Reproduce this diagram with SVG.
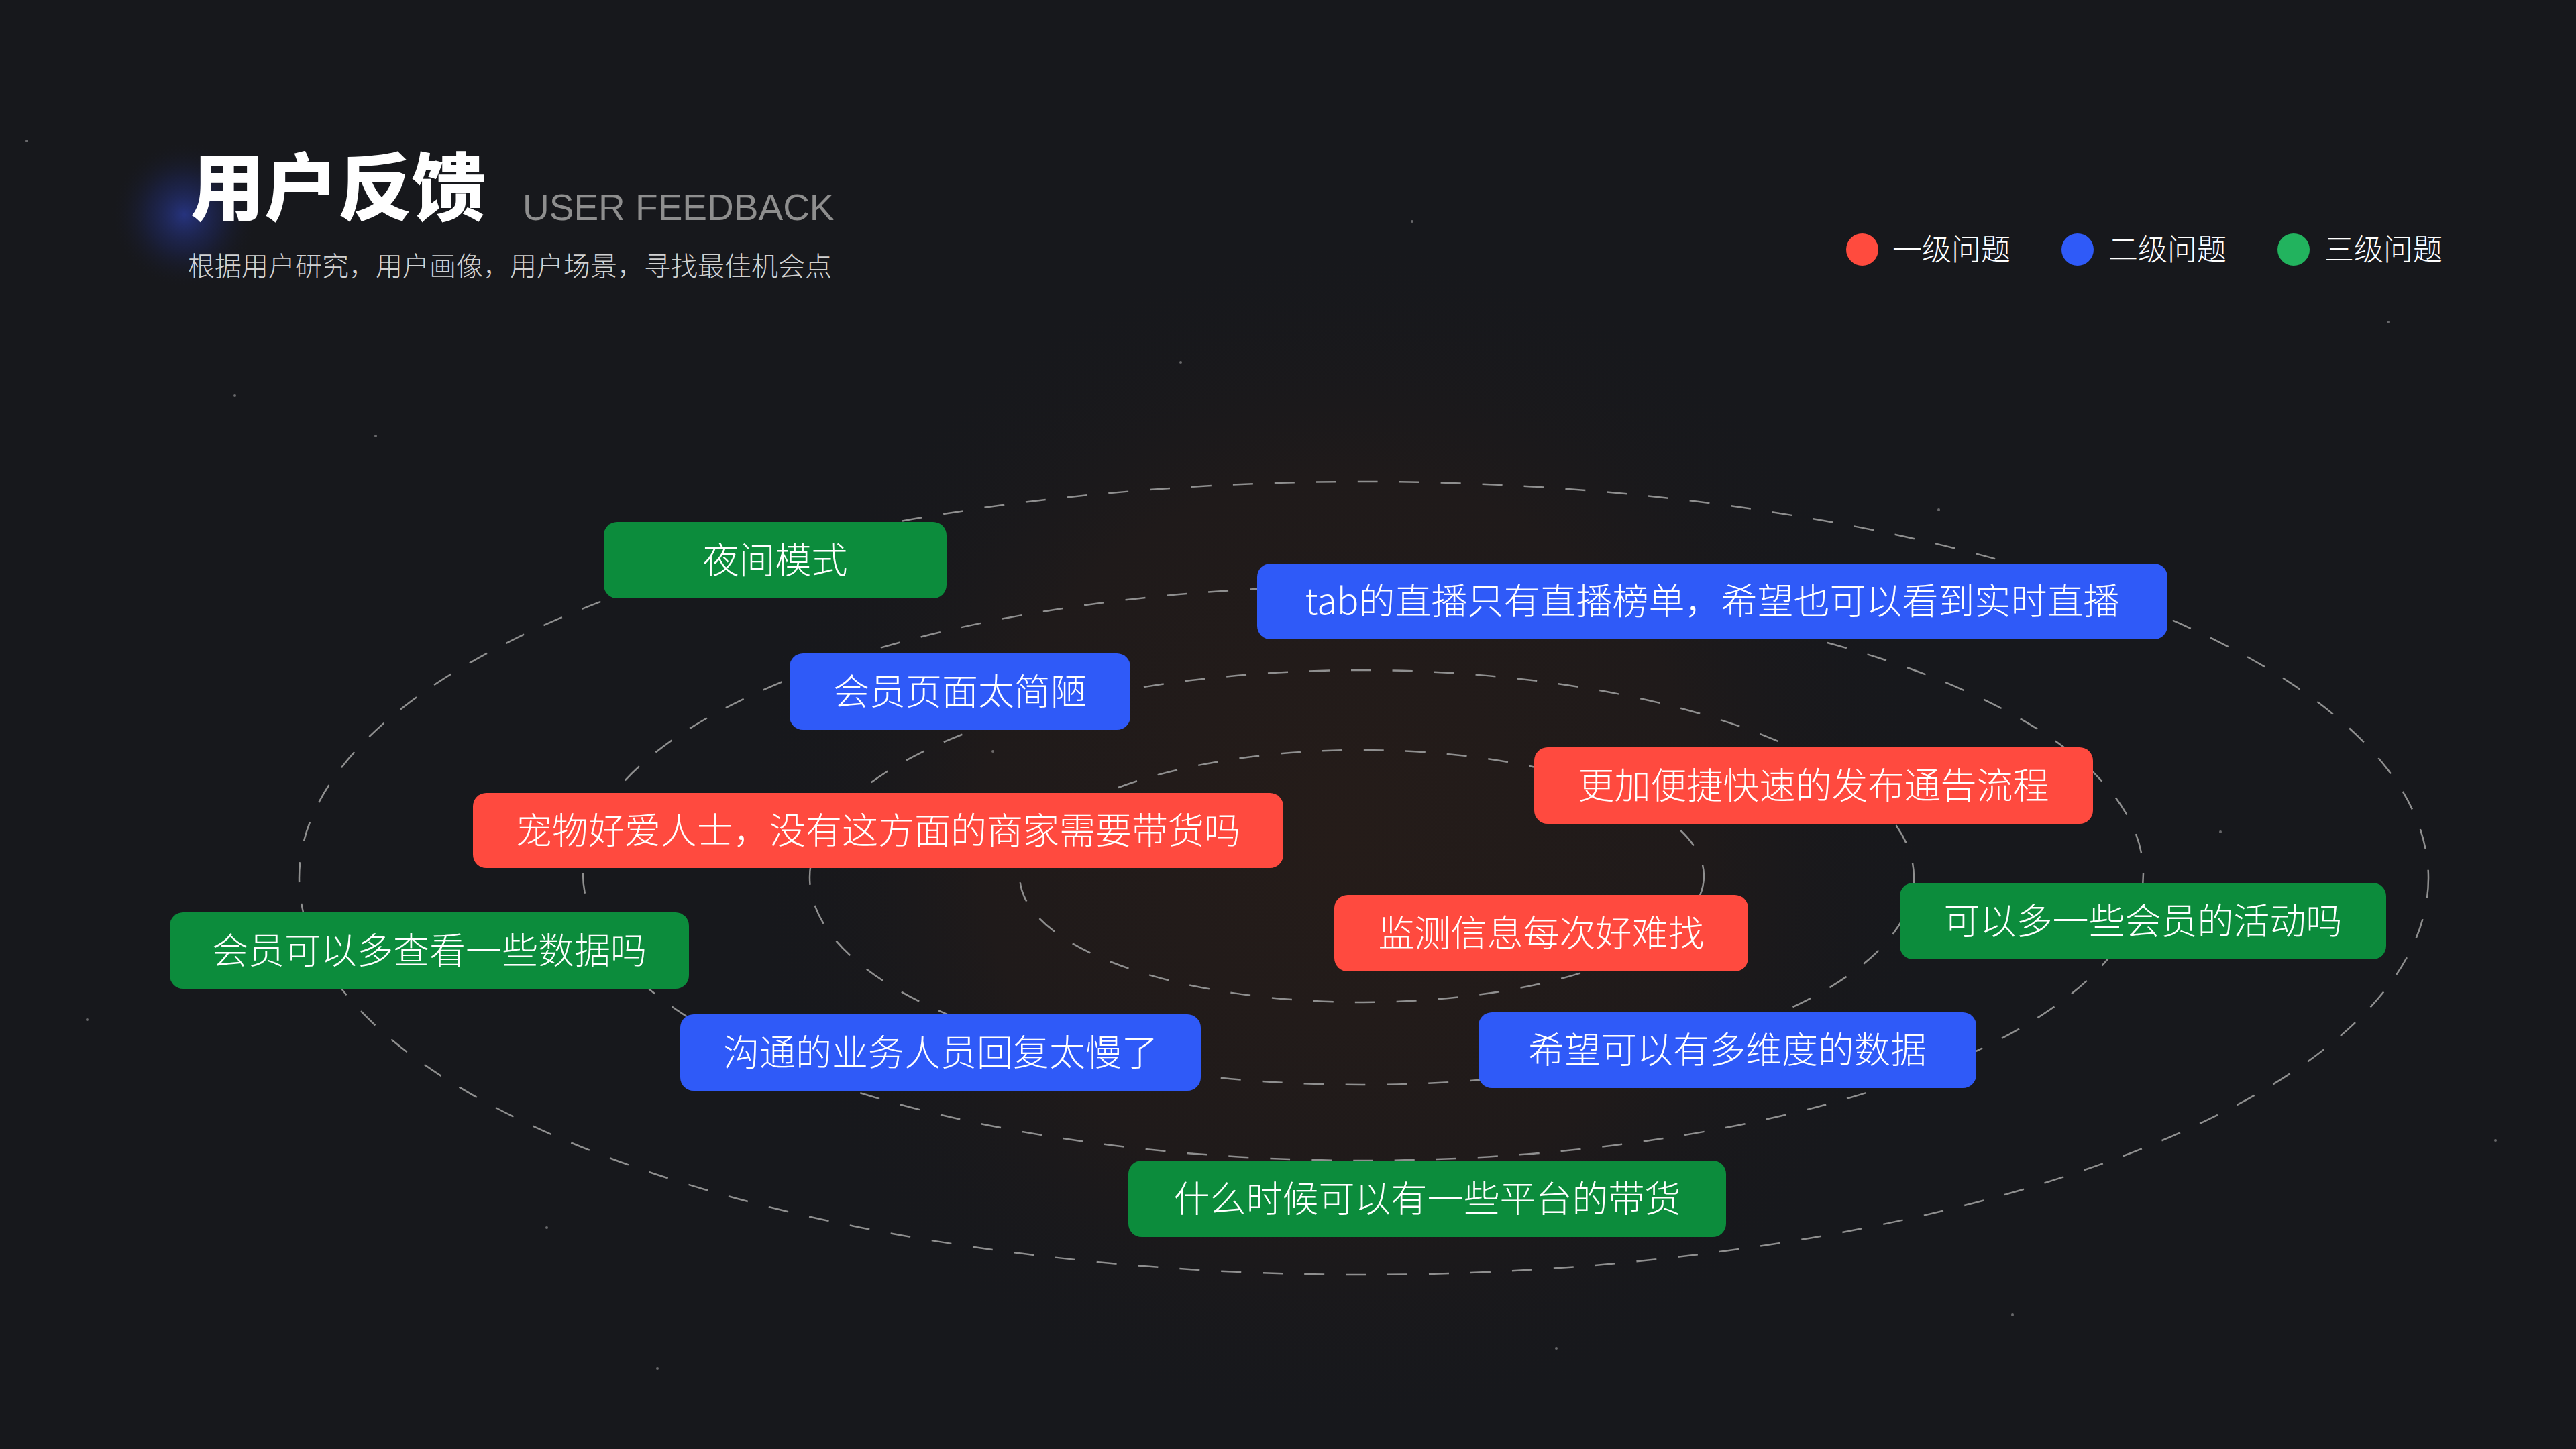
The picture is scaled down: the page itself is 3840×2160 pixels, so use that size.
<svg xmlns="http://www.w3.org/2000/svg" width="3840" height="2160" viewBox="0 0 3840 2160">
<defs>
<radialGradient id="glowC" cx="2000" cy="1250" r="900" gradientUnits="userSpaceOnUse">
<stop offset="0" stop-color="#251c19"/>
<stop offset="0.6" stop-color="#1f1a1a"/>
<stop offset="1" stop-color="#17181c" stop-opacity="0"/>
</radialGradient>
<radialGradient id="glowB" cx="275" cy="320" r="110" gradientUnits="userSpaceOnUse">
<stop offset="0" stop-color="#2d3fa8" stop-opacity="0.7"/>
<stop offset="0.5" stop-color="#1f2a6a" stop-opacity="0.4"/>
<stop offset="1" stop-color="#17181c" stop-opacity="0"/>
</radialGradient>
<style>
.orbit{fill:none;stroke:#8f8f8f;stroke-width:2.5;stroke-dasharray:30 32;}
.tag text{font-family:"Noto Sans CJK SC","Liberation Sans",sans-serif;font-size:54px;font-weight:300;fill:#ffffff;text-anchor:middle;}
.g rect{fill:#0c8c3c;}
.b rect{fill:#2f5af8;}
.r rect{fill:#ff4a3f;}
.leg{font-family:"Noto Sans CJK SC","Liberation Sans",sans-serif;font-size:44px;font-weight:300;fill:#ffffff;}
.star{fill:#ffffff;opacity:0.35;}
</style>
</defs>
<rect width="3840" height="2160" fill="#17181c"/>
<ellipse cx="2000" cy="1250" rx="900" ry="900" fill="url(#glowC)"/>
<circle cx="275" cy="320" r="110" fill="url(#glowB)"/>
<g id="stars">
<circle class="star" cx="40" cy="210" r="2"/><circle class="star" cx="560" cy="650" r="2"/><circle class="star" cx="2105" cy="330" r="2"/><circle class="star" cx="3560" cy="480" r="2"/><circle class="star" cx="2520" cy="1580" r="2"/><circle class="star" cx="815" cy="1830" r="2"/><circle class="star" cx="1480" cy="1120" r="2"/><circle class="star" cx="3000" cy="1960" r="2"/><circle class="star" cx="130" cy="1520" r="2"/><circle class="star" cx="3720" cy="1700" r="2"/><circle class="star" cx="1760" cy="540" r="2"/><circle class="star" cx="2890" cy="760" r="2"/><circle class="star" cx="980" cy="2040" r="2"/><circle class="star" cx="350" cy="590" r="2"/><circle class="star" cx="3310" cy="1240" r="2"/><circle class="star" cx="2320" cy="2010" r="2"/>
</g>
<g id="connectors">
<ellipse class="orbit" cx="2033" cy="1309" rx="1587" ry="591"/>
<ellipse class="orbit" cx="2032" cy="1302" rx="1163" ry="428"/>
<ellipse class="orbit" cx="2030" cy="1308" rx="823" ry="309"/>
<ellipse class="orbit" cx="2030" cy="1306" rx="510" ry="188"/>
</g>
<g id="title">
<text x="284" y="320" font-family="'Noto Sans CJK SC','Liberation Sans',sans-serif" font-size="110" font-weight="900" fill="#ffffff">用户反馈</text>
<text x="779" y="328" font-family="'Liberation Sans',Arial,sans-serif" font-size="55" fill="#8e8e8e">USER FEEDBACK</text>
<text x="280" y="411" font-family="'Noto Sans CJK SC','Liberation Sans',sans-serif" font-size="40" font-weight="300" fill="#d2d2d2">根据用户研究，用户画像，用户场景，寻找最佳机会点</text>
</g>
<g id="legend">
<circle cx="2776" cy="372" r="24" fill="#ff4b3e"/>
<text class="leg" x="2821" y="388">一级问题</text>
<circle cx="3097" cy="372" r="24" fill="#2f5af8"/>
<text class="leg" x="3143" y="388">二级问题</text>
<circle cx="3419" cy="372" r="24" fill="#22b35e"/>
<text class="leg" x="3465" y="388">三级问题</text>
</g>
<g id="n1" class="tag g"><rect x="900" y="778" width="511" height="114" rx="20"/><text x="1155.5" y="855">夜间模式</text></g>
<g id="n2" class="tag b"><rect x="1177" y="974" width="508" height="114" rx="20"/><text x="1431" y="1051">会员页面太简陋</text></g>
<g id="n3" class="tag b"><rect x="1874" y="840" width="1357" height="113" rx="20"/><text x="2552.5" y="916">tab的直播只有直播榜单，希望也可以看到实时直播</text></g>
<g id="n4" class="tag r"><rect x="2287" y="1114" width="833" height="114" rx="20"/><text x="2703.5" y="1191">更加便捷快速的发布通告流程</text></g>
<g id="n5" class="tag r"><rect x="705" y="1182" width="1208" height="112" rx="20"/><text x="1309" y="1258">宠物好爱人士，没有这方面的商家需要带货吗</text></g>
<g id="n6" class="tag r"><rect x="1989" y="1334" width="617" height="114" rx="20"/><text x="2297.5" y="1411">监测信息每次好难找</text></g>
<g id="n7" class="tag g"><rect x="2832" y="1316" width="725" height="114" rx="20"/><text x="3194.5" y="1393">可以多一些会员的活动吗</text></g>
<g id="n8" class="tag g"><rect x="253" y="1360" width="774" height="114" rx="20"/><text x="640" y="1437">会员可以多查看一些数据吗</text></g>
<g id="n9" class="tag b"><rect x="1014" y="1512" width="776" height="114" rx="20"/><text x="1402" y="1589">沟通的业务人员回复太慢了</text></g>
<g id="n10" class="tag b"><rect x="2204" y="1509" width="742" height="113" rx="20"/><text x="2575" y="1585">希望可以有多维度的数据</text></g>
<g id="n11" class="tag g"><rect x="1682" y="1730" width="891" height="114" rx="20"/><text x="2127.5" y="1807">什么时候可以有一些平台的带货</text></g>
</svg>
